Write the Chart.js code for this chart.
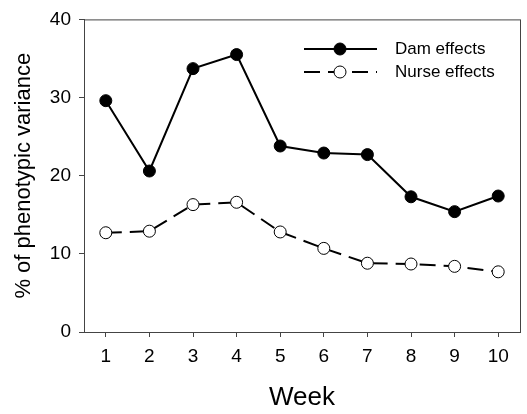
<!DOCTYPE html>
<html lang="en">
<head>
  <meta charset="UTF-8">
  <title>Dam and nurse effects</title>
  <script src="https://cdn.jsdelivr.net/npm/chart.js"></script>
  <style>
    body { margin: 0; background: #fff; }
    #wrap { width: 527px; height: 414px; }
  </style>
</head>
<body>
  <div id="wrap"><canvas id="chart" width="527" height="414"></canvas></div>
  <script>
    const weeks = [1, 2, 3, 4, 5, 6, 7, 8, 9, 10];
    const damEffects = [29.6, 20.6, 33.7, 35.5, 23.8, 22.9, 22.7, 17.3, 15.4, 17.4];
    const nurseEffects = [12.7, 12.9, 16.3, 16.6, 12.8, 10.7, 8.8, 8.7, 8.4, 7.7];
    const yTicks = [0, 10, 20, 30, 40];

    const font = "'Liberation Sans', Arial, sans-serif";

    // box round the plot area
    const frame = {
      id: 'frame',
      afterDraw(chart) {
        const { ctx, chartArea: a } = chart;
        ctx.save();
        ctx.strokeStyle = '#444';
        ctx.lineWidth = 1;
        ctx.strokeRect(a.left + 0.5, a.top + 0.5, a.right - a.left, a.bottom - a.top);
        ctx.restore();
      }
    };

    // legend with line + marker samples
    const lineLegend = {
      id: 'lineLegend',
      afterDraw(chart) {
        const ctx = chart.ctx;
        ctx.save();
        chart.data.datasets.forEach((ds, i) => {
          const y = 49 + i * 23;
          ctx.strokeStyle = ds.borderColor;
          ctx.lineWidth = ds.borderWidth;
          ctx.setLineDash(ds.borderDash || []);
          ctx.beginPath();
          ctx.moveTo(304, y);
          ctx.lineTo(377, y);
          ctx.stroke();
          ctx.setLineDash([]);
          ctx.beginPath();
          ctx.arc(340, y, ds.pointRadius, 0, Math.PI * 2);
          ctx.fillStyle = ds.pointBackgroundColor;
          ctx.fill();
          ctx.lineWidth = 1;
          ctx.stroke();
          ctx.fillStyle = '#000';
          ctx.font = '17px ' + font;
          ctx.textBaseline = 'middle';
          ctx.fillText(ds.label, 395, y);
        });
        ctx.restore();
      }
    };

    new Chart(document.getElementById('chart'), {
      type: 'line',
      data: {
        datasets: [{
          label: 'Dam effects',
          data: weeks.map((w, i) => ({ x: w, y: damEffects[i] })),
          borderColor: '#000',
          borderWidth: 2,
          pointRadius: 6,
          pointBackgroundColor: '#000',
          pointBorderColor: '#000',
          pointBorderWidth: 1,
          tension: 0
        }, {
          label: 'Nurse effects',
          data: weeks.map((w, i) => ({ x: w, y: nurseEffects[i] })),
          borderColor: '#000',
          borderWidth: 2,
          borderDash: [16, 8],
          pointRadius: 6,
          pointBackgroundColor: '#fff',
          pointBorderColor: '#000',
          pointBorderWidth: 1,
          tension: 0
        }]
      },
      options: {
        responsive: false,
        animation: false,
        layout: { padding: { top: 16, right: 0, left: 0, bottom: 0 } },
        plugins: {
          legend: { display: false },
          tooltip: { enabled: false }
        },
        scales: {
          x: {
            type: 'linear',
            min: 0.5,
            max: 10.5,
            afterFit(s) { s.height = 82; s.paddingRight = 0; },
            afterBuildTicks(s) { s.ticks = weeks.map(v => ({ value: v })); },
            grid: { drawOnChartArea: false, tickLength: 5, color: '#444' },
            border: { color: '#444' },
            ticks: { color: '#000', font: { family: font, size: 19 }, padding: 8 },
            title: {
              display: true,
              text: 'Week',
              color: '#000',
              font: { family: font, size: 26 },
              padding: { top: 0, bottom: 1 }
            }
          },
          y: {
            min: 0,
            max: 40,
            afterFit(s) { s.width = 84; },
            afterBuildTicks(s) { s.ticks = yTicks.map(v => ({ value: v })); },
            grid: { drawOnChartArea: false, tickLength: 5, color: '#444' },
            border: { color: '#444' },
            ticks: { color: '#000', font: { family: font, size: 19 }, padding: 8 },
            title: {
              display: true,
              text: '% of phenotypic variance',
              color: '#000',
              font: { family: font, size: 22 },
              padding: { top: 11, bottom: 0 }
            }
          }
        }
      },
      plugins: [frame, lineLegend]
    });
  </script>
</body>
</html>
